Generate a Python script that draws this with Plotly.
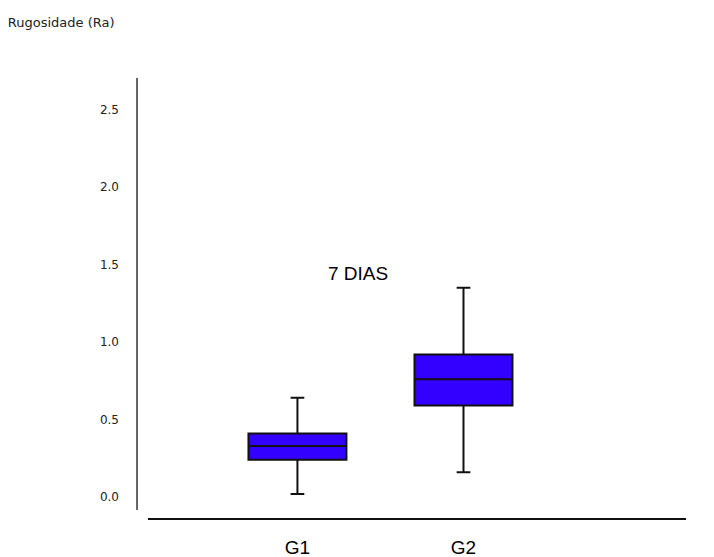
import plotly.graph_objects as go

groups = ["G1", "G2"]
upper_whisker = [0.64, 1.35]
q3_values = [0.41, 0.92]
medians = [0.33, 0.76]
q1_values = [0.24, 0.59]
lower_whisker = [0.02, 0.16]
y_ticks = [0.0, 0.5, 1.0, 1.5, 2.0, 2.5]

fig = go.Figure()
fig.add_trace(go.Box(
    x=groups,
    q1=q1_values, median=medians, q3=q3_values,
    lowerfence=lower_whisker, upperfence=upper_whisker,
    fillcolor="#3300ff",
    line=dict(color="#111111", width=2),
    width=0.59,
    whiskerwidth=0.14,
    boxpoints=False,
    showlegend=False,
    hoverinfo="skip",
))

fig.add_annotation(x=0.367, y=1.445, xref="x", yref="y", text="7 DIAS",
                   showarrow=False, font=dict(family="Liberation Sans, Arial", size=19, color="#000000"))

# y axis line drawn separately (detached from the x axis line)
fig.add_shape(type="line", xref="paper", yref="paper",
              x0=-0.0204, x1=-0.0204, y0=0.018, y1=1.0,
              line=dict(color="#333333", width=1.5))

fig.update_layout(
    width=714, height=557,
    margin=dict(l=148, r=28, t=78, b=39, autoexpand=False),
    paper_bgcolor="white", plot_bgcolor="white",
    title=dict(text="Rugosidade (Ra)", x=0.011, xanchor="left", y=0.96, yanchor="middle",
               font=dict(family="DejaVu Sans, Liberation Sans", size=13, color="#222222")),
    xaxis=dict(
        type="category", range=[-0.9, 2.34],
        showgrid=False, zeroline=False, automargin=False,
        showline=True, linecolor="#111111", linewidth=1.5,
        ticks="", ticklabelstandoff=11,
        tickfont=dict(family="Liberation Sans, Arial", size=19, color="#000000"),
        fixedrange=True,
    ),
    yaxis=dict(
        range=[-0.135, 2.703], automargin=False,
        tickvals=y_ticks, tickformat=".1f",
        showgrid=False, zeroline=False, showline=False,
        ticks="", ticklabelstandoff=28,
        tickfont=dict(family="DejaVu Sans, Liberation Sans", size=12, color="#222222"),
        fixedrange=True,
    ),
)

fig.write_html("out.html")
